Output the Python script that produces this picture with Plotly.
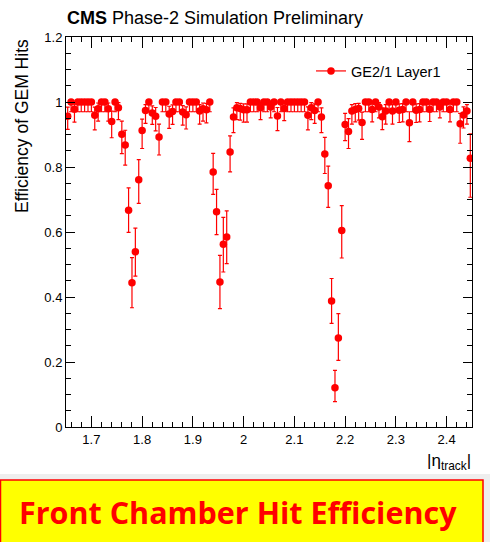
import plotly.graph_objects as go

# ---- data ----
ETA_LO = 1.65
ETA_HI = 2.45
N_BINS = 120
BIN_W = (ETA_HI - ETA_LO) / N_BINS
eta = [round(ETA_LO + (i + 0.5) * BIN_W, 5) for i in range(N_BINS)]

eff = [
    0.956, 1.0, 0.978, 1.0, 1.0, 1.0, 1.0, 1.0, 0.959, 0.979,
    1.0, 1.0, 0.979, 0.94, 1.0, 0.982, 0.901, 0.868, 0.667, 0.444,
    0.539, 0.761, 0.912, 0.974, 1.0, 0.966, 0.956, 0.892, 1.0, 1.0,
    0.963, 0.971, 1.0, 1.0, 0.969, 0.961, 1.0, 1.0, 1.0, 0.972,
    0.979, 0.976, 1.0, 0.785, 0.662, 0.446, 0.562, 0.585, 0.846, 0.954,
    0.982, 0.98, 0.976, 0.976, 1.0, 1.0, 1.0, 0.982, 1.0, 1.0,
    0.985, 1.0, 0.957, 1.0, 0.98, 1.0, 1.0, 1.0, 1.0, 1.0,
    1.0, 0.959, 0.982, 0.974, 1.0, 0.954, 0.84, 0.742, 0.388, 0.121,
    0.274, 0.605, 0.931, 0.909, 0.972, 0.977, 0.98, 0.937, 1.0, 1.0,
    0.977, 1.0, 0.985, 0.955, 0.972, 1.0, 0.972, 1.0, 0.975, 0.977,
    1.0, 0.936, 1.0, 0.975, 0.977, 1.0, 1.0, 0.978, 1.0, 1.0,
    0.985, 1.0, 1.0, 0.977, 1.0, 1.0, 0.933, 0.96, 0.972, 0.827,
]

err_up = [
    0.028, 0, 0.018, 0, 0, 0, 0, 0, 0.025, 0.018,
    0, 0, 0.018, 0.032, 0, 0.016, 0.04, 0.045, 0.069, 0.077,
    0.073, 0.062, 0.035, 0.018, 0, 0.022, 0.027, 0.04, 0, 0,
    0.024, 0.02, 0, 0, 0.02, 0.024, 0, 0, 0, 0.02,
    0.018, 0.02, 0, 0.057, 0.069, 0.082, 0.083, 0.08, 0.05, 0.028,
    0.016, 0.016, 0.018, 0.018, 0, 0, 0, 0.016, 0, 0,
    0.013, 0, 0.026, 0, 0.017, 0, 0, 0, 0, 0,
    0, 0.026, 0.016, 0.02, 0, 0.028, 0.051, 0.061, 0.069, 0.053,
    0.075, 0.076, 0.034, 0.04, 0.02, 0.018, 0.016, 0.032, 0, 0,
    0.018, 0, 0.013, 0.027, 0.02, 0, 0.02, 0, 0.019, 0.018,
    0, 0.034, 0, 0.019, 0.018, 0, 0, 0.017, 0, 0,
    0.013, 0, 0, 0.018, 0, 0, 0.032, 0.025, 0.02, 0.075,
]

err_dn = [
    0.04, 0.03, 0.04, 0.03, 0.03, 0.03, 0.03, 0.03, 0.045, 0.038,
    0.03, 0.03, 0.038, 0.05, 0.03, 0.036, 0.06, 0.062, 0.068, 0.077,
    0.075, 0.073, 0.055, 0.04, 0.03, 0.035, 0.045, 0.055, 0.03, 0.03,
    0.044, 0.04, 0.03, 0.03, 0.04, 0.044, 0.03, 0.03, 0.03, 0.04,
    0.038, 0.04, 0.03, 0.069, 0.07, 0.082, 0.085, 0.082, 0.061, 0.048,
    0.036, 0.036, 0.038, 0.038, 0.03, 0.03, 0.03, 0.036, 0.03, 0.03,
    0.034, 0.03, 0.045, 0.03, 0.037, 0.03, 0.03, 0.03, 0.03, 0.03,
    0.03, 0.045, 0.036, 0.04, 0.03, 0.048, 0.06, 0.066, 0.069, 0.043,
    0.069, 0.085, 0.05, 0.052, 0.04, 0.038, 0.036, 0.052, 0.03, 0.03,
    0.038, 0.03, 0.034, 0.04, 0.04, 0.03, 0.04, 0.03, 0.038, 0.038,
    0.03, 0.058, 0.03, 0.038, 0.038, 0.03, 0.03, 0.038, 0.03, 0.03,
    0.034, 0.03, 0.03, 0.038, 0.03, 0.03, 0.06, 0.04, 0.04, 0.12,
]

series_name = "GE2/1 Layer1"
x_ticks = [1.7, 1.8, 1.9, 2.0, 2.1, 2.2, 2.3, 2.4]
y_ticks = [0, 0.2, 0.4, 0.6, 0.8, 1.0, 1.2]

# ---- figure ----
W, H = 490, 542
ML, MR, MT, MB = 66, 18, 37, 115
PW, PH = W - ML - MR, H - MT - MB


def px_x(px):
    return (px - ML) / PW


def px_y(py):
    return (H - MB - py) / PH


RED = "#ff0000"
FONT = "Liberation Sans, Arial, Helvetica, sans-serif"

fig = go.Figure()
fig.add_trace(go.Scatter(
    x=eta, y=eff, mode="markers",
    marker=dict(color=RED, size=7.5),
    error_y=dict(type="data", symmetric=False, array=err_up, arrayminus=err_dn,
                 color=RED, thickness=1.2, width=2),
    showlegend=False, hoverinfo="skip",
))
fig.add_trace(go.Scatter(
    x=[None], y=[None], mode="lines+markers", name=series_name,
    line=dict(color=RED, width=1.2), marker=dict(color=RED, size=7.5),
))

axis_common = dict(
    showline=True, linecolor="black", linewidth=1, mirror="allticks",
    ticks="inside", tickcolor="black", showgrid=False, zeroline=False,
    tickfont=dict(family=FONT, size=13, color="black"),
)
fig.update_xaxes(range=[ETA_LO, ETA_HI], tickvals=x_ticks, ticklen=11,
                 minor=dict(dtick=0.02, tick0=1.7, ticklen=5, ticks="inside", tickcolor="black"),
                 **axis_common)
fig.update_yaxes(range=[0, 1.2], tickvals=y_ticks, ticklen=9,
                 minor=dict(dtick=0.05, tick0=0, ticklen=5, ticks="inside", tickcolor="black"),
                 **axis_common)

fig.update_layout(
    width=W, height=H,
    margin=dict(l=ML, r=MR, t=MT, b=MB, pad=0),
    paper_bgcolor="white", plot_bgcolor="white",
    font=dict(family=FONT, color="black"),
    hovermode=False,
    legend=dict(x=px_x(311), y=px_y(55), xanchor="left", yanchor="top",
                bgcolor="rgba(0,0,0,0)", font=dict(family=FONT, size=14.5, color="black"),
                itemwidth=30),
    shapes=[
        dict(type="rect", xref="paper", yref="paper", x0=px_x(0), x1=px_x(W),
             y0=px_y(H + 2), y1=px_y(474), fillcolor="#eeeeee", line=dict(width=0), layer="below"),
        dict(type="rect", xref="paper", yref="paper", x0=px_x(0.5), x1=px_x(483),
             y0=px_y(H + 5), y1=px_y(480), fillcolor="#ffff00", line=dict(color=RED, width=1.5), layer="below"),
    ],
    annotations=[
        dict(text="<b>CMS</b> Phase-2 Simulation Preliminary", xref="paper", yref="paper",
             x=px_x(65), y=px_y(18), xanchor="left", yanchor="middle", showarrow=False,
             font=dict(family=FONT, size=18, color="black")),
        dict(text="Efficiency of GEM Hits", xref="paper", yref="paper", textangle=-90,
             x=px_x(22), y=px_y(37), xanchor="center", yanchor="top", showarrow=False,
             font=dict(family=FONT, size=17.5, color="black")),
        dict(text="|η<sub>track</sub>|", xref="paper", yref="paper",
             x=px_x(473), y=px_y(462), xanchor="right", yanchor="middle", showarrow=False,
             font=dict(family=FONT, size=17, color="black")),
        dict(text="<b>Front Chamber Hit Efficiency</b>", xref="paper", yref="paper",
             x=px_x(238), y=px_y(512), xanchor="center", yanchor="middle", showarrow=False,
             font=dict(family="Open Sans, Lato, sans-serif", size=30.5, color=RED)),
    ],
)

fig.write_html("out.html", config={"displayModeBar": False},
               post_script="document.body.style.margin='0';document.body.style.padding='0';")
